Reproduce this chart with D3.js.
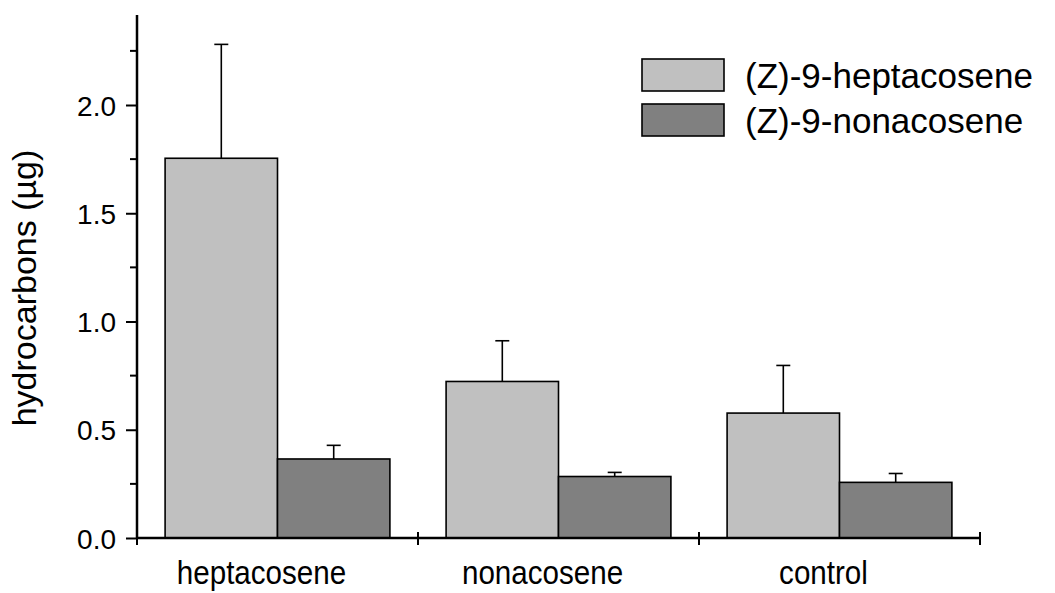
<!DOCTYPE html>
<meta charset="utf-8">
<head>
  <title>Hydrocarbons bar chart</title>
</head>

<style>
  body {
    margin: 0;
    background: #fff;
  }
  svg text {
    font-family: "Liberation Sans", Arial, sans-serif;
    fill: #000;
  }
</style>

<body>
<svg id="chart" width="1055" height="593"></svg>

<script src="https://cdnjs.cloudflare.com/ajax/libs/d3/7.8.5/d3.min.js"></script>
<script>
  var categories = ["heptacosene", "nonacosene", "control"];
  var seriesNames = ["(Z)-9-heptacosene", "(Z)-9-nonacosene"];
  var heptacoseneValues = [1.754, 0.723, 0.577];
  var heptacoseneErrors = [0.526, 0.188, 0.220];
  var nonacoseneValues = [0.365, 0.284, 0.257];
  var nonacoseneErrors = [0.063, 0.019, 0.041];
  var majorTicks = [0.0, 0.5, 1.0, 1.5, 2.0];
  var minorTicks = [0.25, 0.75, 1.25, 1.75, 2.25];
  var seriesColors = ["#c0c0c0", "#808080"];

  var rows = [];
  categories.forEach(function(c, i) {
    rows.push({ cat: c, series: seriesNames[0], value: heptacoseneValues[i], err: heptacoseneErrors[i] });
    rows.push({ cat: c, series: seriesNames[1], value: nonacoseneValues[i], err: nonacoseneErrors[i] });
  });

  var svg = d3.select('#chart');

  var x0 = d3.scaleBand()
    .domain(categories)
    .range([137, 980])
    .padding(0);

  var x1 = d3.scaleBand()
    .domain(seriesNames)
    .range([0, x0.bandwidth()])
    .paddingInner(0)
    .paddingOuter(0.25);

  var y = d3.scaleLinear()
    .domain([0, 2])
    .range([538, 105]);

  var color = d3.scaleOrdinal()
    .domain(seriesNames)
    .range(seriesColors);

  // bars
  svg.append('g')
    .selectAll('rect')
    .data(rows)
    .enter()
    .append('rect')
    .attr('x', function(d) { return x0(d.cat) + x1(d.series); })
    .attr('y', function(d) { return y(d.value); })
    .attr('width', x1.bandwidth())
    .attr('height', function(d) { return y(0) - y(d.value); })
    .style('fill', function(d) { return color(d.series); })
    .style('stroke', '#000')
    .style('stroke-width', 1.6);

  // error bars (upper only)
  var errG = svg.append('g')
    .selectAll('g')
    .data(rows)
    .enter()
    .append('g')
    .attr('transform', function(d) {
      return 'translate(' + (x0(d.cat) + x1(d.series) + x1.bandwidth() / 2) + ',0)';
    });

  errG.append('line')
    .attr('x1', 0).attr('x2', 0)
    .attr('y1', function(d) { return y(d.value); })
    .attr('y2', function(d) { return y(d.value + d.err); })
    .style('stroke', '#000')
    .style('stroke-width', 1.6);

  errG.append('line')
    .attr('x1', -7).attr('x2', 7)
    .attr('y1', function(d) { return y(d.value + d.err); })
    .attr('y2', function(d) { return y(d.value + d.err); })
    .style('stroke', '#000')
    .style('stroke-width', 1.6);

  // y axis
  var yTop = 15;
  var yAxisG = svg.append('g')
    .attr('transform', 'translate(137,0)');

  yAxisG.call(d3.axisLeft(y)
      .tickValues(majorTicks)
      .tickFormat(d3.format('.1f'))
      .tickSize(11)
      .tickPadding(10))
    .call(function(g) {
      g.select('.domain').remove();
      g.selectAll('line').style('stroke', '#000').style('stroke-width', 2);
      g.selectAll('text')
        .style('font-size', '28px')
        .attr('dy', '0.36em');
    });

  yAxisG.selectAll('.minor')
    .data(minorTicks)
    .enter()
    .append('line')
    .attr('class', 'minor')
    .attr('x1', -7).attr('x2', 0)
    .attr('y1', function(d) { return y(d); })
    .attr('y2', function(d) { return y(d); })
    .style('stroke', '#000')
    .style('stroke-width', 2);

  yAxisG.append('line')
    .attr('x1', 0).attr('x2', 0)
    .attr('y1', yTop).attr('y2', y(0) + 1)
    .style('stroke', '#000')
    .style('stroke-width', 2.5);

  // x axis
  var xAxisG = svg.append('g');

  xAxisG.append('line')
    .attr('x1', 137).attr('x2', 980)
    .attr('y1', y(0)).attr('y2', y(0))
    .style('stroke', '#000')
    .style('stroke-width', 2.5);

  var boundaries = categories.map(function(c) { return x0(c); }).concat([x0.range()[1]]);

  xAxisG.selectAll('.xtick')
    .data(boundaries)
    .enter()
    .append('line')
    .attr('class', 'xtick')
    .attr('x1', function(d) { return d; })
    .attr('x2', function(d) { return d; })
    .attr('y1', y(0) - 6)
    .attr('y2', y(0) + 7)
    .style('stroke', '#000')
    .style('stroke-width', 2);

  // labels are a bit condensed in the original, so squeeze them horizontally
  xAxisG.selectAll('.xlabel')
    .data(categories)
    .enter()
    .append('text')
    .attr('class', 'xlabel')
    .attr('transform', function(d) {
      return 'translate(' + (x0(d) + x0.bandwidth() / 2 - 16) + ',584) scale(0.87,1)';
    })
    .attr('text-anchor', 'middle')
    .style('font-size', '34px')
    .text(function(d) { return d; });

  // y title
  svg.append('text')
    .attr('transform', 'translate(36,288) rotate(-90)')
    .attr('text-anchor', 'middle')
    .style('font-size', '34px')
    .text('hydrocarbons (µg)');

  // legend
  var legend = svg.append('g')
    .attr('transform', 'translate(642,59)')
    .selectAll('g')
    .data(seriesNames)
    .enter()
    .append('g')
    .attr('transform', function(d, i) { return 'translate(0,' + (i * 45) + ')'; });

  legend.append('rect')
    .attr('width', 82)
    .attr('height', 32)
    .style('fill', function(d) { return color(d); })
    .style('stroke', '#000')
    .style('stroke-width', 1.6);

  legend.append('text')
    .attr('x', 103)
    .attr('y', 29)
    .style('font-size', '35px')
    .text(function(d) { return d; });
</script>
</body>
</html>
